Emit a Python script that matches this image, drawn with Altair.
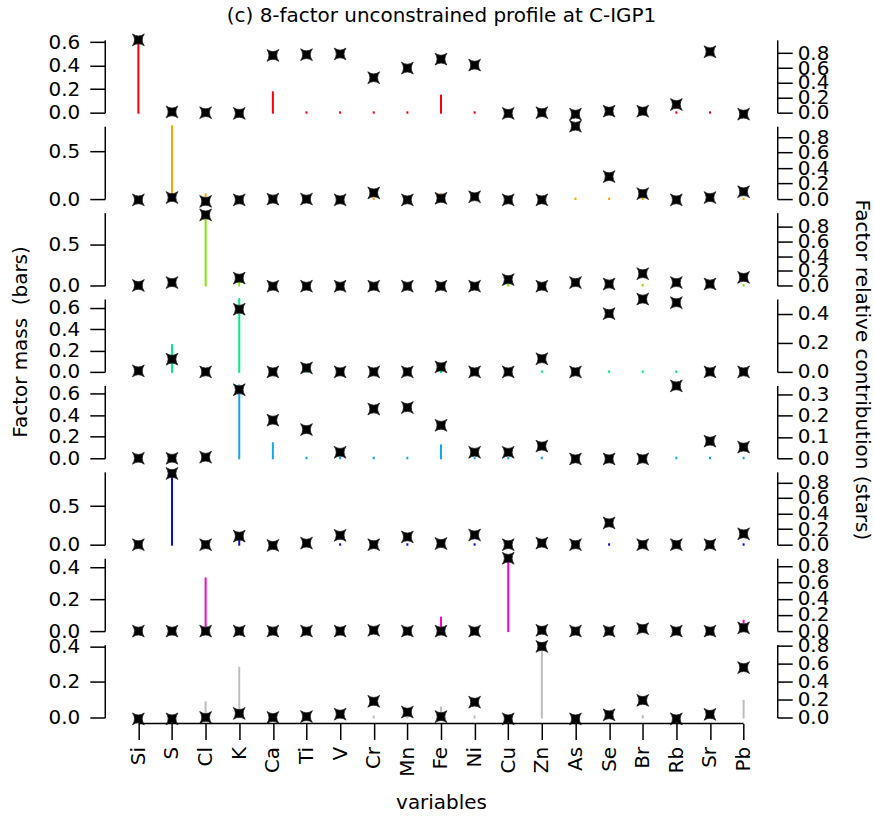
import altair as alt
import pandas as pd

elements = ["Si", "S", "Cl", "K", "Ca", "Ti", "V", "Cr", "Mn", "Fe",
            "Ni", "Cu", "Zn", "As", "Se", "Br", "Rb", "Sr", "Pb"]

# Factor mass (bars), one list per factor
mass_f1 = [0.60, 0.005, 0.003, 0.003, 0.173, 0.003, 0.003, 0.003, 0.003, 0.145,
           0.003, 0.002, 0.002, 0.002, 0.002, 0.002, 0.003, 0.003, 0.003]
mass_f2 = [0.002, 0.764, 0.05, 0.002, 0.02, 0.002, 0.002, 0.005, 0.002, 0.05,
           0.01, 0.002, 0.002, 0.005, 0.005, 0.005, 0.002, 0.002, 0.005]
mass_f3 = [0.002, 0.01, 0.89, 0.04, 0.002, 0.002, 0.002, 0.002, 0.002, 0.002,
           0.002, 0.01, 0.002, 0.002, 0.01, 0.005, 0.002, 0.002, 0.005]
mass_f4 = [0.003, 0.25, 0.002, 0.68, 0.002, 0.003, 0.002, 0.002, 0.002, 0.004,
           0.002, 0.002, 0.004, 0.002, 0.004, 0.004, 0.004, 0.002, 0.002]
mass_f5 = [0.002, 0.002, 0.004, 0.678, 0.14, 0.005, 0.005, 0.005, 0.005, 0.12,
           0.003, 0.003, 0.005, 0.002, 0.002, 0.002, 0.005, 0.005, 0.005]
mass_f6 = [0.002, 0.944, 0.002, 0.06, 0.002, 0.002, 0.005, 0.002, 0.005, 0.002,
           0.005, 0.002, 0.002, 0.002, 0.005, 0.002, 0.002, 0.002, 0.005]
mass_f7 = [0.002, 0.002, 0.33, 0.002, 0.002, 0.002, 0.002, 0.002, 0.002, 0.084,
           0.002, 0.457, 0.025, 0.002, 0.002, 0.01, 0.002, 0.002, 0.065]
mass_f8 = [0.002, 0.002, 0.086, 0.28, 0.002, 0.002, 0.002, 0.005, 0.002, 0.056,
           0.005, 0.002, 0.41, 0.002, 0.002, 0.008, 0.002, 0.002, 0.094]

# Factor relative contribution (stars), one list per factor
contrib_f1 = [0.98, 0.01, 0.0, -0.01, 0.77, 0.78, 0.79, 0.47, 0.60, 0.72,
              0.64, -0.01, 0.0, -0.02, 0.02, 0.02, 0.11, 0.82, -0.02]
contrib_f2 = [-0.01, 0.02, -0.03, -0.01, 0.0, 0.0, -0.01, 0.08, -0.01, 0.01,
              0.03, -0.01, -0.01, 0.94, 0.29, 0.07, -0.01, 0.02, 0.095]
contrib_f3 = [0.0, 0.04, 0.96, 0.10, -0.01, -0.01, -0.01, -0.01, -0.01, -0.01,
              -0.01, 0.08, -0.01, 0.04, 0.02, 0.16, 0.04, 0.02, 0.11]
contrib_f4 = [0.007, 0.087, 0.0, 0.43, 0.0, 0.027, 0.0, 0.0, 0.0, 0.034,
              0.0, 0.0, 0.09, 0.0, 0.40, 0.50, 0.475, 0.0, 0.0]
contrib_f5 = [0.0, 0.0, 0.005, 0.32, 0.178, 0.134, 0.028, 0.23, 0.237, 0.154,
              0.028, 0.028, 0.057, -0.003, -0.003, -0.003, 0.338, 0.08, 0.052]
contrib_f6 = [0.0, 0.915, 0.0, 0.11, -0.01, 0.02, 0.12, 0.0, 0.10, 0.015,
              0.125, 0.0, 0.02, 0.0, 0.28, 0.0, 0.0, 0.0, 0.14]
contrib_f7 = [0.0, 0.0, 0.0, 0.0, 0.0, 0.0, 0.0, 0.01, 0.0, 0.0,
              0.0, 0.90, 0.01, 0.0, 0.0, 0.03, 0.0, 0.0, 0.04]
contrib_f8 = [-0.015, -0.015, 0.0, 0.045, 0.0, 0.01, 0.037, 0.18, 0.06, 0.01,
              0.17, -0.015, 0.79, -0.015, 0.03, 0.19, -0.015, 0.035, 0.555]

masses = [mass_f1, mass_f2, mass_f3, mass_f4, mass_f5, mass_f6, mass_f7, mass_f8]
contribs = [contrib_f1, contrib_f2, contrib_f3, contrib_f4,
            contrib_f5, contrib_f6, contrib_f7, contrib_f8]

colors = ["#FF0000", "#FFA500", "#80E800", "#00EE80",
          "#10A8F0", "#0808E0", "#FF00CC", "#BDBDBD"]
left_max = [0.62, 0.765, 0.89, 0.68, 0.678, 0.944, 0.457, 0.41]
right_max = [0.98, 0.94, 0.99, 0.50, 0.34, 0.936, 0.90, 0.81]
left_ticks = [[0, 0.2, 0.4, 0.6], [0, 0.5], [0, 0.5], [0, 0.2, 0.4, 0.6],
              [0, 0.2, 0.4, 0.6], [0, 0.5], [0, 0.2, 0.4], [0, 0.2, 0.4]]
right_ticks = [[0, 0.2, 0.4, 0.6, 0.8], [0, 0.2, 0.4, 0.6, 0.8],
               [0, 0.2, 0.4, 0.6, 0.8], [0, 0.2, 0.4], [0, 0.1, 0.2, 0.3],
               [0, 0.2, 0.4, 0.6, 0.8], [0, 0.2, 0.4, 0.6, 0.8],
               [0, 0.2, 0.4, 0.6, 0.8]]

title_text = "(c) 8-factor unconstrained profile at C-IGP1"
left_title = "Factor mass \u00a0(bars)"
right_title = "Factor relative contribution (stars)"
x_title = "variables"

W = 674
H = 73
FONT = "DejaVu Sans"
FS = 20
STAR = "M-1,-1Q0,-0.3,1,-1Q0.3,0,1,1Q0,0.3,-1,1Q-0.3,0,-1,-1Z"

xscale = alt.Scale(type="point", domain=elements, padding=1.0)


def y_axis(orient, ticks, pad):
    return alt.Axis(orient=orient, values=ticks, format=".1f", title=None,
                    labelFontSize=FS, labelFont=FONT, labelColor="black",
                    tickSize=15, labelPadding=pad, domainColor="black",
                    tickColor="black", domainWidth=1.5, tickWidth=1.5,
                    grid=False, labelOverlap=False, labelFlush=False,
                    labelBound=False)


bottom_axis = alt.Axis(title=x_title, titleFontSize=FS, titleFont=FONT,
                       titleFontWeight="normal", titleColor="black",
                       labelAngle=270, labelFontSize=FS, labelFont=FONT,
                       labelColor="black", tickSize=16, tickColor="black",
                       tickWidth=1.5, labelPadding=7, domain=False, offset=6,
                       titlePadding=16, grid=False, labelOverlap=False)

panels = []
for i in range(8):
    df = pd.DataFrame({"el": elements, "mass": masses[i], "contrib": contribs[i]})
    last = i == 7
    xaxis = bottom_axis if last else None
    bars = alt.Chart(df).mark_rule(strokeWidth=2, strokeCap="square",
                                   color=colors[i]).encode(
        x=alt.X("el:N", scale=xscale, axis=xaxis, sort=elements),
        y=alt.Y("mass:Q", scale=alt.Scale(domain=[0, left_max[i]], nice=False,
                                          zero=True),
                axis=y_axis("left", left_ticks[i], 10)),
        y2=alt.datum(0),
    )
    stars = alt.Chart(df).mark_point(shape=STAR, filled=True, size=140,
                                     color="black", opacity=1, stroke="#222222",
                                     strokeWidth=0.8).encode(
        x=alt.X("el:N", scale=xscale, axis=xaxis, sort=elements),
        y=alt.Y("contrib:Q", scale=alt.Scale(domain=[0, right_max[i]], nice=False,
                                             zero=True),
                axis=y_axis("right", right_ticks[i], 5)),
    )
    layers = [bars, stars]
    if last:
        xl = pd.DataFrame({"a": [elements[0]], "b": [elements[-1]]})
        xline = alt.Chart(xl).mark_rule(color="black", strokeWidth=1.5).encode(
            x=alt.X("a:N", scale=xscale, axis=xaxis),
            x2="b:N",
            y=alt.value(H + 6),
        )
        layers.append(xline)
    if i == 3:
        tl = pd.DataFrame({"t": [left_title]})
        ltxt = alt.Chart(tl).mark_text(angle=270, fontSize=FS, font=FONT,
                                       color="black", align="center",
                                       baseline="middle").encode(
            text="t:N", x=alt.value(-84), y=alt.value(43))
        tr = pd.DataFrame({"t": [right_title]})
        rtxt = alt.Chart(tr).mark_text(angle=90, fontSize=FS, font=FONT,
                                       color="black", align="center",
                                       baseline="middle").encode(
            text="t:N", x=alt.value(759), y=alt.value(71))
        layers += [ltxt, rtxt]
    panel = alt.layer(*layers).resolve_scale(y="independent").properties(
        width=W, height=H)
    panels.append(panel)

chart = alt.vconcat(*panels, spacing=13.6, bounds="flush").properties(
    title=alt.TitleParams(title_text, fontSize=FS, font=FONT,
                          fontWeight="normal", color="black", anchor="middle",
                          offset=6),
    padding={"left": 10, "top": 5, "right": 2, "bottom": 2},
).configure_view(stroke=None).configure_axis(labelFont=FONT, titleFont=FONT)

chart.save("out.html", embed_options={"renderer": "svg", "actions": False})
